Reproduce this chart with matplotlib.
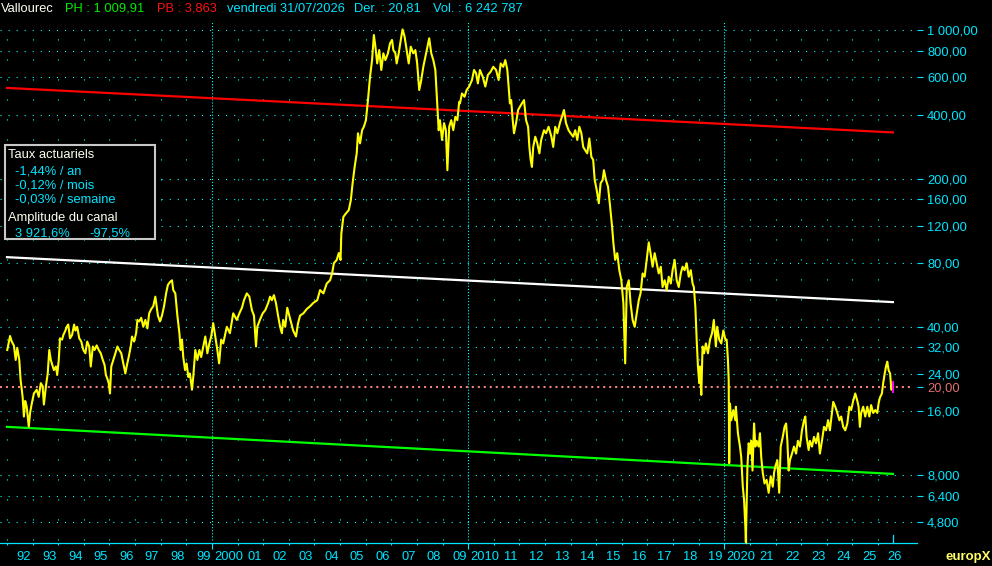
import numpy as np
import matplotlib
matplotlib.use("Agg")
import matplotlib.pyplot as plt
from matplotlib.patches import Rectangle

plt.rcParams['font.family'] = ['Liberation Sans', 'DejaVu Sans']
plt.rcParams['lines.scale_dashes'] = False

# cours Vallourec (annee decimale, prix)
years = [
    1992.01, 1992.12, 1992.18, 1992.27, 1992.34, 1992.40, 1992.48, 1992.53, 1992.61, 1992.66,
    1992.71, 1992.77, 1992.85, 1992.90, 1992.96, 1993.05, 1993.16, 1993.24, 1993.32, 1993.39,
    1993.44, 1993.52, 1993.59, 1993.65, 1993.71, 1993.77, 1993.83, 1993.91, 1993.96, 1994.02,
    1994.07, 1994.15, 1994.20, 1994.28, 1994.33, 1994.39, 1994.46, 1994.54, 1994.62, 1994.67,
    1994.74, 1994.82, 1994.90, 1994.98, 1995.06, 1995.13, 1995.21, 1995.27, 1995.35, 1995.42,
    1995.50, 1995.58, 1995.66, 1995.74, 1995.81, 1995.86, 1995.91, 1995.97, 1996.02, 1996.07,
    1996.15, 1996.23, 1996.31, 1996.38, 1996.46, 1996.54, 1996.62, 1996.67, 1996.75, 1996.83,
    1996.88, 1996.96, 1997.04, 1997.09, 1997.16, 1997.24, 1997.32, 1997.40, 1997.48, 1997.55,
    1997.63, 1997.71, 1997.79, 1997.84, 1997.89, 1997.97, 1998.05, 1998.13, 1998.21, 1998.28,
    1998.36, 1998.44, 1998.49, 1998.57, 1998.65, 1998.73, 1998.78, 1998.83, 1998.88, 1998.95,
    1999.01, 1999.08, 1999.14, 1999.22, 1999.27, 1999.35, 1999.43, 1999.51, 1999.58, 1999.66,
    1999.74, 1999.82, 1999.90, 1999.97, 2000.05, 2000.13, 2000.21, 2000.28, 2000.36, 2000.44,
    2000.58, 2000.70, 2000.83, 2000.97, 2001.07, 2001.17, 2001.25, 2001.36, 2001.46, 2001.56,
    2001.64, 2001.72, 2001.77, 2001.87, 2001.98, 2002.08, 2002.19, 2002.27, 2002.34, 2002.42,
    2002.50, 2002.58, 2002.66, 2002.73, 2002.78, 2002.86, 2002.94, 2003.02, 2003.10, 2003.17,
    2003.28, 2003.36, 2003.44, 2003.57, 2003.70, 2003.83, 2003.96, 2004.11, 2004.22, 2004.35,
    2004.48, 2004.61, 2004.69, 2004.76, 2004.87, 2004.95, 2005.02, 2005.05, 2005.13, 2005.23,
    2005.34, 2005.42, 2005.49, 2005.57, 2005.65, 2005.70, 2005.78, 2005.86, 2005.93, 2006.01,
    2006.09, 2006.17, 2006.25, 2006.32, 2006.38, 2006.45, 2006.53, 2006.61, 2006.69, 2006.77,
    2006.87, 2006.95, 2007.03, 2007.08, 2007.16, 2007.21, 2007.29, 2007.37, 2007.44, 2007.52,
    2007.60, 2007.68, 2007.76, 2007.86, 2007.94, 2008.01, 2008.09, 2008.17, 2008.25, 2008.33,
    2008.41, 2008.48, 2008.56, 2008.64, 2008.72, 2008.80, 2008.85, 2008.90, 2008.98, 2009.06,
    2009.13, 2009.19, 2009.26, 2009.34, 2009.42, 2009.50, 2009.58, 2009.65, 2009.68, 2009.76,
    2009.86, 2009.94, 2010.04, 2010.15, 2010.23, 2010.31, 2010.38, 2010.46, 2010.57, 2010.67,
    2010.77, 2010.88, 2010.98, 2011.09, 2011.19, 2011.27, 2011.37, 2011.45, 2011.53, 2011.58,
    2011.63, 2011.68, 2011.74, 2011.79, 2011.87, 2011.95, 2012.02, 2012.10, 2012.18, 2012.26,
    2012.34, 2012.39, 2012.44, 2012.49, 2012.54, 2012.62, 2012.70, 2012.78, 2012.85, 2012.96,
    2013.04, 2013.14, 2013.25, 2013.32, 2013.40, 2013.48, 2013.58, 2013.66, 2013.74, 2013.82,
    2013.92, 2014.00, 2014.10, 2014.18, 2014.26, 2014.34, 2014.42, 2014.49, 2014.57, 2014.65,
    2014.73, 2014.81, 2014.88, 2014.94, 2015.02, 2015.10, 2015.17, 2015.25, 2015.30, 2015.38,
    2015.46, 2015.54, 2015.62, 2015.67, 2015.74, 2015.82, 2015.90, 2015.98, 2016.06, 2016.13,
    2016.19, 2016.27, 2016.34, 2016.42, 2016.50, 2016.58, 2016.66, 2016.73, 2016.81, 2016.89,
    2016.97, 2017.05, 2017.12, 2017.20, 2017.28, 2017.36, 2017.44, 2017.52, 2017.59, 2017.67,
    2017.75, 2017.83, 2017.91, 2017.98, 2018.06, 2018.14, 2018.22, 2018.30, 2018.37, 2018.45,
    2018.53, 2018.61, 2018.69, 2018.76, 2018.81, 2018.87, 2018.92, 2018.97, 2019.02, 2019.05,
    2019.10, 2019.15, 2019.21, 2019.28, 2019.36, 2019.44, 2019.52, 2019.59, 2019.67, 2019.72,
    2019.80, 2019.88, 2019.96, 2020.04, 2020.09, 2020.14, 2020.17, 2020.19, 2020.22, 2020.27,
    2020.35, 2020.43, 2020.45, 2020.53, 2020.61, 2020.66, 2020.72, 2020.77, 2020.82, 2020.84,
    2020.90, 2020.95, 2021.00, 2021.05, 2021.10, 2021.16, 2021.21, 2021.26, 2021.34, 2021.39,
    2021.44, 2021.50, 2021.57, 2021.65, 2021.73, 2021.81, 2021.89, 2021.94, 2021.99, 2022.07,
    2022.14, 2022.20, 2022.28, 2022.35, 2022.41, 2022.46, 2022.51, 2022.56, 2022.64, 2022.72,
    2022.80, 2022.87, 2022.95, 2023.03, 2023.11, 2023.16, 2023.21, 2023.29, 2023.34, 2023.42,
    2023.50, 2023.58, 2023.66, 2023.73, 2023.81, 2023.89, 2023.97, 2024.05, 2024.12, 2024.20,
    2024.25, 2024.33, 2024.41, 2024.49, 2024.56, 2024.64, 2024.72, 2024.80, 2024.88, 2024.95,
    2025.03, 2025.11, 2025.19, 2025.24, 2025.29, 2025.34, 2025.42, 2025.50, 2025.58, 2025.66,
    2025.73, 2025.81, 2025.89, 2025.97, 2026.02, 2026.07, 2026.15, 2026.20, 2026.26, 2026.31,
    2026.36, 2026.41, 2026.47, 2026.52, 2026.58,
]
prices = [
    31.1, 36.2, 34.2, 32.6, 27.9, 31.8, 27.9, 22.5, 18.7, 15.1,
    17.9, 16.8, 13.5, 15.7, 17.2, 19.4, 20.2, 18.7, 21.7, 21.0,
    17.2, 21.0, 24.1, 31.1, 27.9, 26.4, 25.0, 26.0, 23.7, 27.9,
    35.3, 34.8, 36.6, 38.4, 40.0, 41.0, 35.3, 36.6, 41.0, 38.4,
    40.0, 35.3, 34.1, 31.1, 30.0, 34.1, 32.3, 26.0, 32.3, 31.1,
    32.7, 31.1, 30.0, 27.9, 26.4, 23.7, 22.9, 21.7, 19.4, 26.0,
    27.9, 30.0, 32.3, 31.1, 30.0, 26.9, 24.1, 26.0, 28.8, 32.3,
    36.0, 34.1, 37.3, 43.1, 42.4, 44.1, 40.0, 43.1, 39.3, 46.3,
    48.5, 50.0, 55.5, 50.0, 45.2, 42.4, 45.2, 50.0, 57.5, 63.0,
    65.0, 66.3, 59.6, 57.5, 45.2, 37.3, 31.1, 34.8, 28.8, 25.0,
    26.9, 23.2, 24.1, 20.2, 23.2, 31.1, 27.9, 31.1, 28.8, 32.3,
    36.0, 30.0, 33.4, 36.0, 41.6, 36.0, 31.1, 26.9, 34.8, 33.4,
    40.0, 37.3, 46.3, 43.1, 46.3, 49.2, 53.4, 57.5, 55.5, 47.9,
    45.2, 32.3, 40.0, 43.1, 46.3, 47.9, 51.6, 55.5, 53.4, 56.4,
    51.6, 45.2, 40.0, 37.3, 43.1, 40.0, 49.2, 45.2, 41.6, 38.4,
    36.0, 41.6, 45.2, 46.3, 48.5, 50.0, 51.9, 53.4, 59.6, 57.5,
    64.0, 66.3, 71.4, 79.8, 82.7, 89.1, 82.7, 110, 132, 137,
    142, 158, 190, 227, 263, 327, 293, 338, 351, 377,
    469, 604, 724, 950, 837, 698, 807, 650, 779, 724,
    779, 868, 900, 807, 779, 698, 779, 900, 1009.91, 933,
    807, 698, 837, 779, 807, 698, 523, 583, 673, 751,
    837, 917, 779, 724, 650, 436, 338, 377, 304, 365,
    338, 219, 351, 377, 338, 391, 377, 460, 452, 504,
    486, 523, 543, 583, 650, 627, 562, 650, 604, 543,
    616, 638, 673, 650, 583, 698, 673, 724, 650, 543,
    452, 469, 377, 327, 365, 421, 436, 452, 469, 377,
    351, 282, 245, 227, 282, 315, 293, 263, 304, 338,
    327, 351, 315, 282, 351, 327, 365, 391, 421, 365,
    338, 327, 315, 338, 304, 351, 327, 282, 272, 263,
    309, 253, 245, 197, 176, 153, 190, 197, 219, 197,
    183, 148, 118, 99, 82.7, 89, 74, 66.3, 51.6, 26.9,
    61.6, 66.3, 51.6, 43.1, 40.0, 46.3, 53.4, 57.5, 71.4, 68.9,
    82.7, 100, 89, 76.8, 89, 79.8, 71.4, 76.8, 61.6, 66.3,
    59.6, 68.9, 64.0, 74.0, 82.7, 66.3, 61.6, 71.4, 76.8, 74.0,
    79.8, 68.9, 74.0, 64.0, 61.6, 49.2, 34.8, 26.0, 21.7, 26.0,
    19.1, 32.3, 30.0, 33.4, 30.0, 34.8, 37.3, 43.1, 32.3, 40.0,
    34.8, 33.4, 38.4, 34.8, 34.8, 27.9, 22.5, 9.1, 17.4, 14.5,
    16.2, 14.5, 16.8, 12.6, 10.9, 9.7, 7.05, 6.11, 4.57, 3.863,
    8.7, 11.3, 10.1, 11.6, 8.4, 14.0, 10.9, 11.6, 10.9, 12.6,
    9.7, 8.2, 7.3, 7.6, 6.6, 7.9, 7.05, 8.2, 8.8, 9.4,
    6.6, 10.9, 12.1, 13.5, 14.0, 11.6, 8.4, 9.4, 10.1, 10.9,
    10.1, 11.6, 10.9, 13.0, 14.5, 15.1, 12.1, 10.5, 11.6, 10.9,
    12.1, 11.3, 12.6, 10.1, 11.6, 13.5, 13.0, 14.5, 13.0, 15.7,
    17.7, 16.8, 15.7, 14.5, 15.1, 13.5, 13.0, 14.0, 16.8, 16.2,
    17.9, 19.4, 17.9, 16.8, 13.5, 15.7, 16.8, 15.1, 16.8, 15.1,
    17.1, 15.7, 16.2, 15.7, 17.4, 18.5, 19.4, 21.7, 24.1, 26.0,
    27.4, 25.0, 24.1, 20.2, 20.81,
]

# canal de tendance (debut 1992, fin 31/07/2026)
channel_dates = [1992.0, 2026.58]
channel_high = [535, 330]
channel_mid = [85.2, 52.3]
channel_low = [13.5, 8.1]

last_bar = [19.7, 22.0]
ref_level = 20.81

ytick_values = [1000, 800, 600, 400, 200, 160, 120, 80, 40, 32, 24, 16, 8, 6.4, 4.8]
ytick_labels = ["1 000,00", "800,00", "600,00", "400,00", "200,00", "160,00", "120,00",
                "80,00", "40,00", "32,00", "24,00", "16,00", "8,000", "6,400", "4,800"]
ref_label = "20,00"

year_ticks = list(range(1992, 2027))
year_labels = ["92", "93", "94", "95", "96", "97", "98", "99", "2000", "01", "02", "03",
               "04", "05", "06", "07", "08", "09", "2010", "11", "12", "13", "14", "15",
               "16", "17", "18", "19", "2020", "21", "22", "23", "24", "25", "26"]

header = [
    ("Vallourec", '#fffff0', 1),
    ("PH : 1 009,91", '#00ee00', 65),
    ("PB : 3,863", '#ff1010', 157),
    ("vendredi 31/07/2026", '#00e5ff', 227),
    ("Der. : 20,81", '#00e5ff', 354),
    ("Vol. : 6 242 787", '#00e5ff', 433),
]

CYAN = '#00e5ff'
GRID = '#00ffff'
FS = 9.3

W, H = 992, 566


def fpos(x, y):
    # pixels de l'image -> coordonnees figure
    return x / W, 1 - y / H


fig = plt.figure(figsize=(W / 100, H / 100), dpi=100, facecolor='black')
ax = fig.add_axes([0, 23 / H, 917 / W, (543 - 18) / H])
ax.set_facecolor('black')
ax.set_yscale('log')
ax.set_xlim(1991.727, 2027.52)
ax.set_ylim(3.826, 1143)

for s in ['top', 'left', 'right']:
    ax.spines[s].set_visible(False)
ax.spines['bottom'].set_color(CYAN)
ax.spines['bottom'].set_linewidth(0.9)

# grille
for v in ytick_values:
    ax.axhline(v, xmin=0, xmax=912 / 917, color=GRID, lw=0.8,
               linestyle=(0, (0.8, 5.0)), zorder=1)
for yr in year_ticks:
    if yr % 10 == 0:
        ax.axvline(yr, ymin=0.005, ymax=0.995, color=GRID, lw=0.8,
                   linestyle=(0, (0.8, 1.4)), zorder=1)
    else:
        ax.axvline(yr, ymin=0.005, ymax=0.995, color=GRID, lw=0.8,
                   linestyle=(0, (0.8, 13.6)), zorder=1)

ax.axhline(ref_level, xmin=0, xmax=912 / 917, color='#f08080', lw=1.5,
           linestyle=(0, (1.5, 2.8)), zorder=2)

# canal
ax.plot(channel_dates, channel_high, color='#ff0000', lw=1.6, zorder=3)
ax.plot(channel_dates, channel_mid, color='white', lw=1.6, zorder=3)
ax.plot(channel_dates, channel_low, color='#00ff00', lw=1.6, zorder=3)

# cours
ax.plot(years, prices, color='#ffff00', lw=1.5, zorder=4)
ax.plot([years[-1], years[-1]], last_bar, color='#ff00ff', lw=1.4, zorder=5)

# axe des x
ax.set_xticks([y for y in year_ticks if y % 10 == 0])
ax.set_xticks([y for y in year_ticks if y % 10 != 0], minor=True)
ax.tick_params(axis='x', which='major', direction='out', length=4.3, width=0.8,
               color=CYAN, labelbottom=False)
ax.tick_params(axis='x', which='minor', direction='out', length=1.5, width=0.8,
               color=CYAN, labelbottom=False)
trans = ax.get_xaxis_transform()
for yr, lab in zip(year_ticks, year_labels):
    ax.text(yr + 0.66, -0.0267, lab, transform=trans, color=CYAN, fontsize=FS,
            ha='center', va='center')

low_date = years[int(np.argmin(prices))]
ax.plot([years[-1], years[-1]], [0, 0.0152], transform=trans, color=CYAN, lw=0.9,
        clip_on=False, zorder=6)
ax.plot([low_date, low_date], [0, 0.0152], transform=trans, color='#ffff00', lw=0.9,
        clip_on=False, zorder=6)

# axe des y a droite
ax.yaxis.tick_right()
ax.set_yticks(ytick_values + [ref_level])
ax.set_yticklabels(ytick_labels + [ref_label])
ax.yaxis.set_minor_locator(matplotlib.ticker.NullLocator())
ax.tick_params(axis='y', direction='out', length=4.3, width=0.8, color=CYAN,
               labelcolor=CYAN, labelsize=FS, pad=3)
ax.yaxis.get_major_ticks()[-1].tick2line.set_color('#e07070')
ax.get_yticklabels()[-1].set_color('#e07070')

# entete
for txt, col, x in header:
    fig.text(*fpos(x, 8.5), txt, color=col, fontsize=FS, ha='left', va='center')

fig.text(*fpos(946, 557), "europX", color='#ffff66', fontsize=9.5, fontweight='bold',
         ha='left', va='center')

# encadre taux actuariels
x0, y0 = fpos(4.7, 239.3)
x1, y1 = fpos(154.7, 144.7)
fig.patches.append(Rectangle((x0, y0), x1 - x0, y1 - y0, transform=fig.transFigure,
                             facecolor='black', edgecolor='#c8c8c8', lw=1.5, zorder=10))
box_text = [
    ("Taux actuariels", '#fffff0', 8, 155.5),
    ("-1,44% / an", CYAN, 15, 172),
    ("-0,12% / mois", CYAN, 15, 185.5),
    ("-0,03% / semaine", CYAN, 15, 199),
    ("Amplitude du canal", '#fffff0', 7.5, 217.5),
    ("3 921,6%", CYAN, 15, 233.5),
    ("-97,5%", CYAN, 89.5, 233.5),
]
for txt, col, x, y in box_text:
    fig.text(*fpos(x, y), txt, color=col, fontsize=FS, ha='left', va='center', zorder=11)

fig.savefig('out.png', dpi=100, facecolor='black')
